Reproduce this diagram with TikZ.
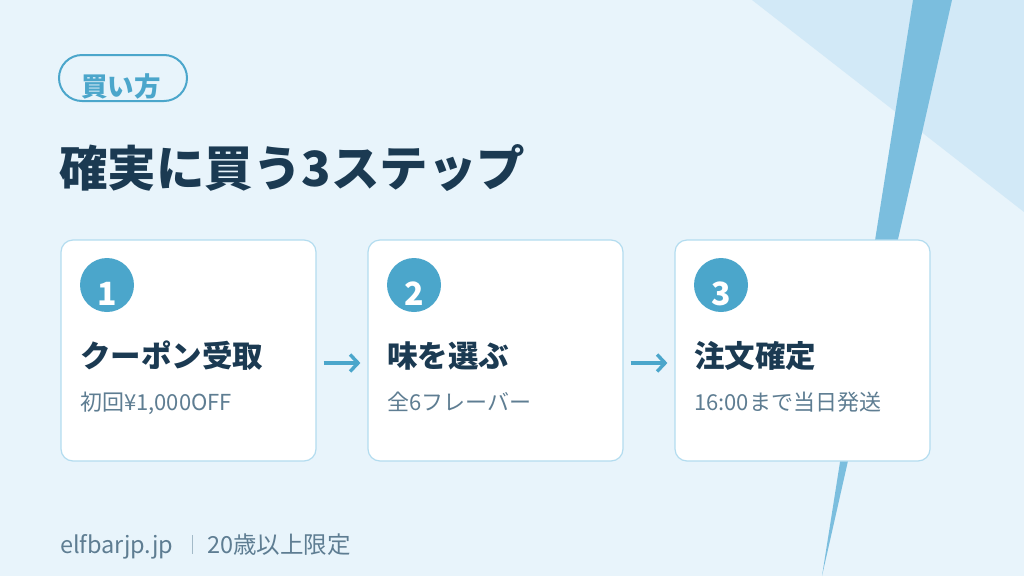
\documentclass[tikz,border=0pt]{standalone}
\usepackage{fontspec}
\setmainfont{Noto Sans CJK JP}
\usetikzlibrary{arrows.meta,positioning}
\definecolor{bgcolor}{HTML}{E8F4FB}
\definecolor{cornercolor}{HTML}{D2E9F7}
\definecolor{stripecolor}{HTML}{7BBEDE}
\definecolor{accentcolor}{HTML}{4BA6CB}
\definecolor{cardborder}{HTML}{B3DCEF}
\definecolor{titlecolor}{HTML}{1B3A52}
\definecolor{subcolor}{HTML}{5E7D92}
\definecolor{sepcolor}{HTML}{A3BAC8}

\begin{document}
\begin{tikzpicture}[
    x=1pt, y=-1pt,
    % Estilos
    tagpill/.style={
        rectangle,
        rounded corners=23pt,
        draw=accentcolor,
        line width=2pt,
        minimum width=128pt,
        minimum height=46pt
    },
    tagtext/.style={
        font=\fontsize{26.5}{26.5}\selectfont\bfseries,
        text=accentcolor,
        inner sep=0pt,
        anchor=base
    },
    maintitle/.style={
        font=\fontsize{48.5}{48.5}\selectfont\bfseries,
        text=titlecolor,
        inner sep=0pt,
        anchor=base west
    },
    stepcard/.style={
        rectangle,
        rounded corners=12pt,
        draw=cardborder,
        line width=1.2pt,
        fill=white,
        minimum width=255pt,
        minimum height=221pt
    },
    stepnum/.style={
        circle,
        fill=accentcolor,
        minimum size=54pt,
        inner sep=0pt
    },
    numtext/.style={
        font=\fontsize{32}{32}\selectfont\bfseries,
        text=white,
        inner sep=0pt,
        anchor=base
    },
    stephead/.style={
        font=\fontsize{30.5}{30.5}\selectfont\bfseries,
        text=titlecolor,
        inner sep=0pt,
        anchor=base west
    },
    stepsub/.style={
        font=\fontsize{22}{22}\selectfont,
        text=subcolor,
        inner sep=0pt,
        anchor=base west
    },
    footnote/.style={
        font=\fontsize{23.5}{23.5}\selectfont,
        text=subcolor,
        inner sep=0pt,
        anchor=base west
    },
    steparrow/.style={
        -{Straight Barb[length=8pt,width=17pt,line width=3.4pt]},
        line width=3.6pt,
        draw=accentcolor,
        shorten <=7pt,
        shorten >=7pt
    }
]

% ============================================================================
% Fundo
% ============================================================================
\fill[bgcolor] (0,0) rectangle (1024,576);
\useasboundingbox (0,0) rectangle (1024,576);
\fill[cornercolor] (752,0) -- (1024,0) -- (1024,212) -- cycle;
\fill[stripecolor] (913,0) -- (952,0) -- (822,576) -- cycle;

% ============================================================================
% Título
% ============================================================================
\node[tagpill] (tag) at (123,78) {};
\node[tagtext] (tagword) at (121,96) {買い方};
\node[maintitle] (title) at (59,186) {確実に買う3ステップ};

% ============================================================================
% Passos
% ============================================================================
\node[stepcard] (card1) at (188.5,350.5) {};
\node[stepnum] (num1) at (107,285) {};
\node[numtext] (digit1) at (107,305) {1};
\node[stephead] (head1) at (80,367) {クーポン受取};
\node[stepsub] (sub1) at (80,410) {初回¥1,000OFF};

\node[stepcard] (card2) at (495.5,350.5) {};
\node[stepnum] (num2) at (414,285) {};
\node[numtext] (digit2) at (414,305) {2};
\node[stephead] (head2) at (387,367) {味を選ぶ};
\node[stepsub] (sub2) at (387,410) {全6フレーバー};

\node[stepcard] (card3) at (802.5,350.5) {};
\node[stepnum] (num3) at (721,285) {};
\node[numtext] (digit3) at (721,305) {3};
\node[stephead] (head3) at (694,367) {注文確定};
\node[stepsub] (sub3) at (694,410) {16:00まで当日発送};

% ============================================================================
% Setas
% ============================================================================
\draw[steparrow] ([yshift=-12.5pt]card1.east) -- ([yshift=-12.5pt]card2.west);
\draw[steparrow] ([yshift=-12.5pt]card2.east) -- ([yshift=-12.5pt]card3.west);

% ============================================================================
% Rodapé
% ============================================================================
\node[footnote] (site) at (60,553) {elfbarjp.jp};
\node[footnote] (age) at (207,553) {20歳以上限定};
\draw[sepcolor, line width=1pt] (192,535) -- (192,554);

\end{tikzpicture}
\end{document}
